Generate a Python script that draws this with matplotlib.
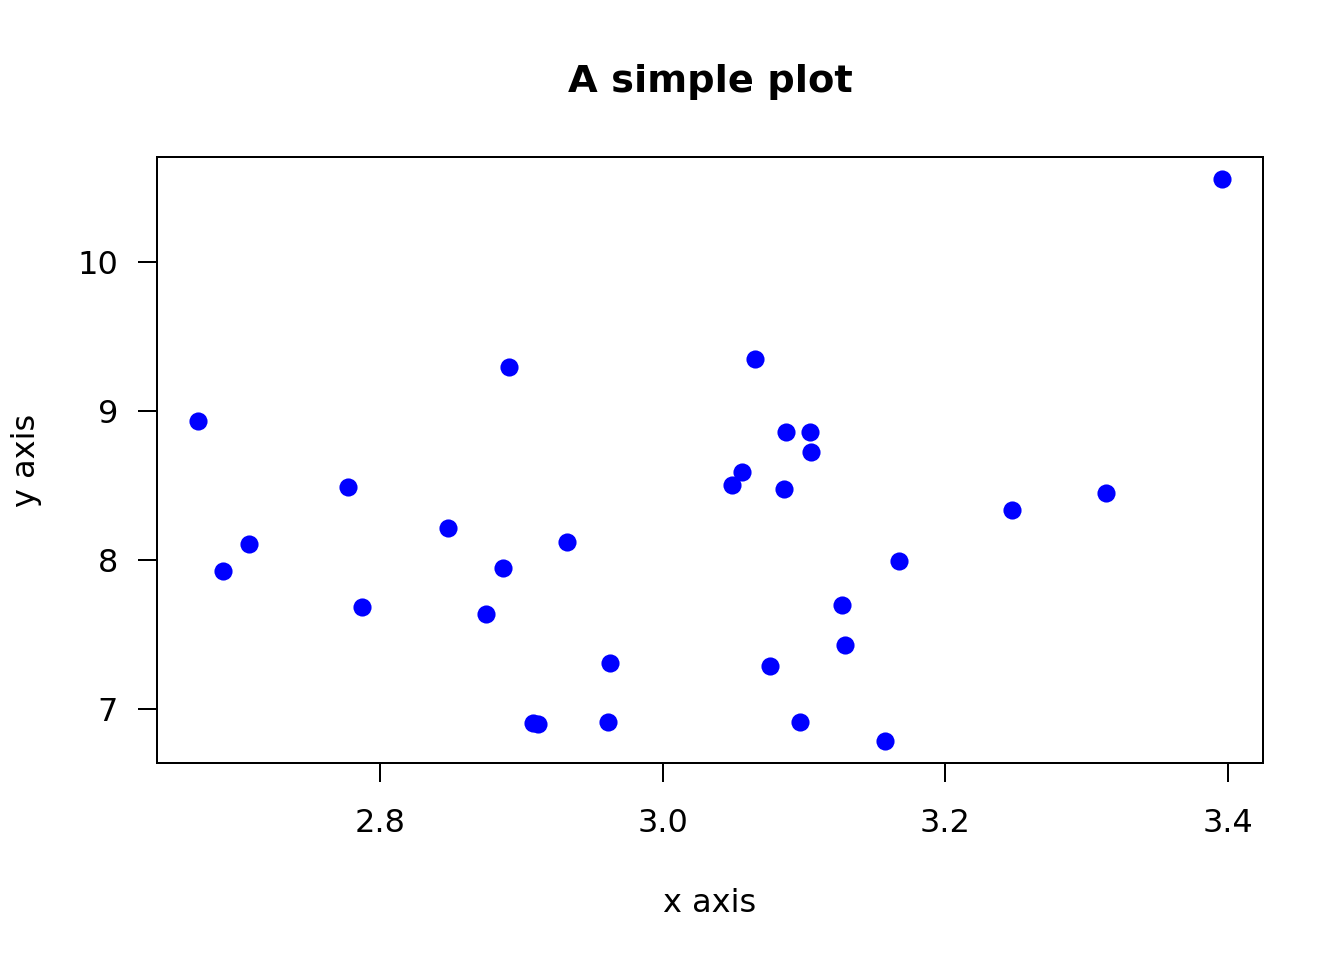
import matplotlib
matplotlib.use("Agg")
from matplotlib import pyplot as plt

# values
x_vals = [2.671, 2.689, 2.707, 2.777, 2.787, 2.848, 2.875, 2.887, 2.891, 2.908,
          2.912, 2.932, 2.961, 2.963, 3.049, 3.056, 3.065, 3.076, 3.086, 3.087,
          3.097, 3.104, 3.105, 3.127, 3.129, 3.157, 3.167, 3.247, 3.314, 3.396]
y_vals = [8.933, 7.926, 8.107, 8.490, 7.685, 8.215, 7.638, 7.946, 9.295, 6.906,
          6.899, 8.121, 6.913, 7.309, 8.503, 8.591, 9.349, 7.289, 8.477, 8.859,
          6.913, 8.859, 8.725, 7.698, 7.430, 6.785, 7.993, 8.336, 8.450, 10.557]
x_ticks = [2.8, 3.0, 3.2, 3.4]
x_tick_labels = ["2.8", "3.0", "3.2", "3.4"]
y_ticks = [7, 8, 9, 10]
y_tick_labels = ["7", "8", "9", "10"]

plt.rcParams["font.family"] = ["DejaVu Sans"]
plt.rcParams["font.size"] = 12

fig = plt.figure(figsize=(7, 5), dpi=192)
ax = fig.add_axes([157 / 1344, 1 - 763 / 960, (1263 - 157) / 1344, (763 - 157) / 960])

ax.plot(x_vals, y_vals, "o", color="#0000FF", markersize=6.8, markeredgewidth=0)

ax.set_xlim(2.6422, 3.4248)
ax.set_ylim(6.638, 10.705)
ax.set_xticks(x_ticks)
ax.set_xticklabels(x_tick_labels)
ax.set_yticks(y_ticks)
ax.set_yticklabels(y_tick_labels)
ax.tick_params(direction="out", length=7.1, width=0.75, color="black")
ax.tick_params(axis="x", pad=9.6)
ax.tick_params(axis="y", pad=7.5)
for s in ax.spines.values():
    s.set_linewidth(0.75)

ax.set_xlabel("x axis")
ax.xaxis.label.set_va("center")
ax.xaxis.set_label_coords(0.5, (763 - 903) / 606)
ax.set_ylabel("y axis")
ax.yaxis.label.set_va("center")
ax.yaxis.set_label_coords((27 - 157) / 1106, 0.5)

ax.set_title("A simple plot", fontsize=14.4, fontweight="bold",
             y=(763 - 98) / 606, va="center")

fig.savefig("out.png", dpi=192)
